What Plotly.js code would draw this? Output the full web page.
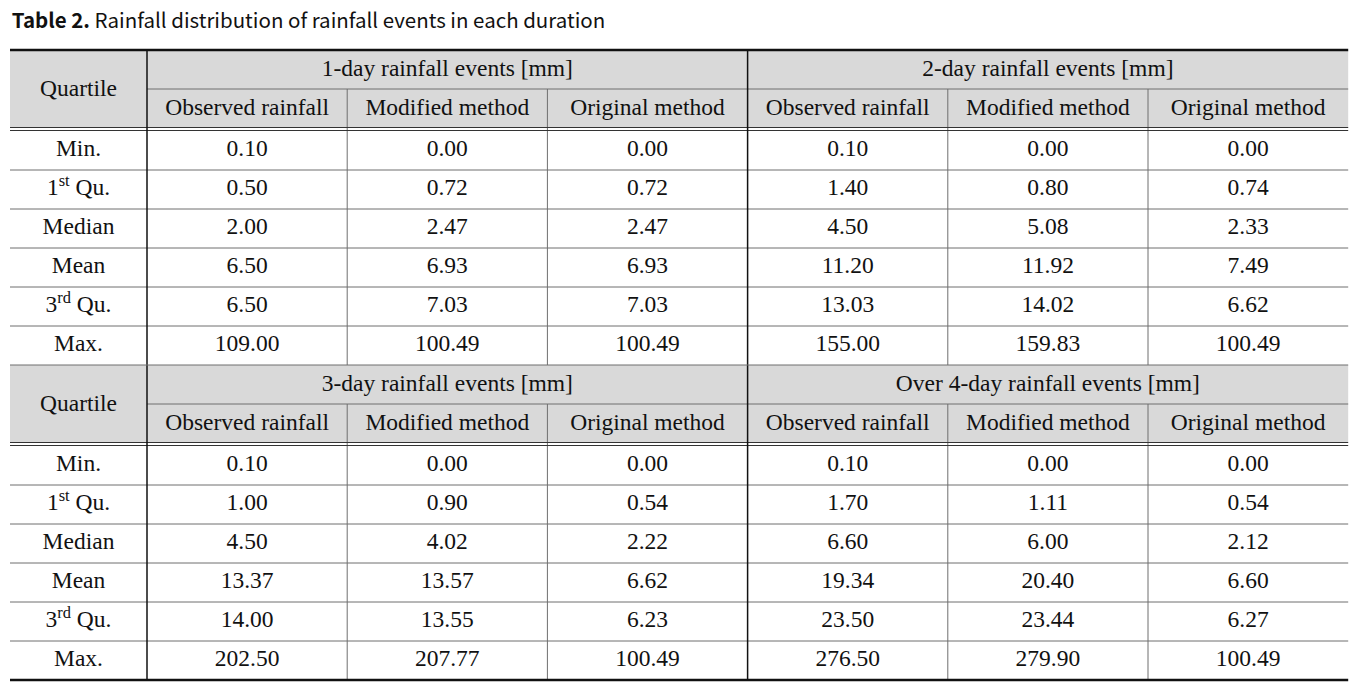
<!DOCTYPE html>
<html>
<head>
<meta charset="utf-8">
<script src="https://cdn.plot.ly/plotly-3.0.1.min.js"></script>
<style>html,body{margin:0;padding:0;background:#fff;}#chart{width:1368px;height:682px;}</style>
</head>
<body>
<div id="chart"></div>
<script>
// ---- Data ----
const quartiles = ['Min.', '1<sup>st</sup> Qu.', 'Median', 'Mean', '3<sup>rd</sup> Qu.', 'Max.'];
const durations = ['1-day rainfall events [mm]', '2-day rainfall events [mm]', '3-day rainfall events [mm]', 'Over 4-day rainfall events [mm]'];
const methods = ['Observed rainfall', 'Modified method', 'Original method'];

const day1Observed = [0.10, 0.50, 2.00, 6.50, 6.50, 109.00];
const day1Modified = [0.00, 0.72, 2.47, 6.93, 7.03, 100.49];
const day1Original = [0.00, 0.72, 2.47, 6.93, 7.03, 100.49];

const day2Observed = [0.10, 1.40, 4.50, 11.20, 13.03, 155.00];
const day2Modified = [0.00, 0.80, 5.08, 11.92, 14.02, 159.83];
const day2Original = [0.00, 0.74, 2.33, 7.49, 6.62, 100.49];

const day3Observed = [0.10, 1.00, 4.50, 13.37, 14.00, 202.50];
const day3Modified = [0.00, 0.90, 4.02, 13.57, 13.55, 207.77];
const day3Original = [0.00, 0.54, 2.22, 6.62, 6.23, 100.49];

const day4Observed = [0.10, 1.70, 6.60, 19.34, 23.50, 276.50];
const day4Modified = [0.00, 1.11, 6.00, 20.40, 23.44, 279.90];
const day4Original = [0.00, 0.54, 2.12, 6.60, 6.27, 100.49];

const series = [
  [day1Observed, day1Modified, day1Original],
  [day2Observed, day2Modified, day2Original],
  [day3Observed, day3Modified, day3Original],
  [day4Observed, day4Modified, day4Original]
];

// ---- Geometry (style) ----
const W = 1368, H = 682;
const left = 10, quartW = 137, colW = 200.2;
const tableTop = 50, rowH = 39, hdrH = 39, dblGap = 3;
const nCols = 3;
const right = left + quartW + 2 * nCols * colW;
const blockH = 2 * hdrH + dblGap + quartiles.length * rowH;

const xs = [], ys = [], ts = [];
const shapes = [];
const grayLine = '#6e6e6e', black = '#111';

function hline(y, x0, x1, color, w) {
  shapes.push({type: 'line', xref: 'x', yref: 'y', x0: x0, x1: x1, y0: y, y1: y, line: {color: color, width: w}, layer: 'above'});
}
function vline(x, y0, y1, color, w) {
  shapes.push({type: 'line', xref: 'x', yref: 'y', x0: x, x1: x, y0: y0, y1: y1, line: {color: color, width: w}, layer: 'above'});
}

for (let b = 0; b < 2; b++) {
  const y0 = tableTop + b * blockH;
  const bodyTop = y0 + 2 * hdrH + dblGap;
  const yEnd = y0 + blockH;
  // header fill
  shapes.push({type: 'rect', xref: 'x', yref: 'y', x0: left, x1: right, y0: y0, y1: y0 + 2 * hdrH, fillcolor: '#d9d9d9', line: {width: 0}, layer: 'below'});
  // Quartile header
  xs.push(left + quartW / 2); ys.push(y0 + hdrH + 1); ts.push('Quartile');
  for (let g = 0; g < 2; g++) {
    const d = b * 2 + g;
    const gx0 = left + quartW + g * nCols * colW;
    xs.push(gx0 + nCols * colW / 2); ys.push(y0 + hdrH / 2 + 1); ts.push(durations[d]);
    for (let m = 0; m < nCols; m++) {
      const cx = gx0 + (m + 0.5) * colW;
      xs.push(cx); ys.push(y0 + hdrH * 1.5 + 1); ts.push(methods[m]);
      const vals = series[d][m];
      for (let r = 0; r < quartiles.length; r++) {
        xs.push(cx); ys.push(bodyTop + (r + 0.5) * rowH); ts.push(vals[r].toFixed(2));
      }
      if (m > 0) vline(gx0 + m * colW, y0 + hdrH, yEnd, grayLine, 1);
    }
    hline(y0 + hdrH, gx0, gx0 + nCols * colW, grayLine, 1);
  }
  for (let r = 0; r < quartiles.length; r++) {
    xs.push(left + quartW / 2); ys.push(bodyTop + (r + 0.5) * rowH); ts.push(quartiles[r]);
    if (r > 0) hline(bodyTop + r * rowH, left, right, grayLine, 1);
  }
  // double line below header
  hline(y0 + 2 * hdrH - 0.5, left, right, '#333', 1);
  hline(y0 + 2 * hdrH + dblGap - 0.5, left, right, '#333', 1);
  // group verticals
  vline(left + quartW, y0, yEnd, black, 1.5);
  vline(left + quartW + nCols * colW, y0, yEnd, black, 1.5);
  if (b === 1) hline(y0, left, right, grayLine, 1);
}
hline(tableTop, left, right, black, 2.5);
hline(tableTop + 2 * blockH, left, right, black, 2.5);

const trace = {
  type: 'scatter', mode: 'text', x: xs, y: ys, text: ts,
  textposition: 'middle center',
  textfont: {family: '"Liberation Serif", "Times New Roman", serif', size: 23.5, color: '#111'},
  hoverinfo: 'skip', showlegend: false
};

const layout = {
  width: W, height: H,
  margin: {l: 0, r: 0, t: 0, b: 0},
  paper_bgcolor: '#fff', plot_bgcolor: '#fff',
  title: {
    text: '<b>Table 2.</b> Rainfall distribution of rainfall events in each duration',
    x: 0.0085, xanchor: 'left', xref: 'container',
    y: 1 - 21 / H, yanchor: 'middle', yref: 'container',
    font: {family: '"Noto Sans CJK KR", "Noto Sans", sans-serif', size: 20.5, color: '#111'}
  },
  xaxis: {range: [0, W], visible: false, fixedrange: true},
  yaxis: {range: [H, 0], visible: false, fixedrange: true},
  shapes: shapes,
  hovermode: false
};

Plotly.newPlot('chart', [trace], layout, {displayModeBar: false, staticPlot: true});
</script>
</body>
</html>
